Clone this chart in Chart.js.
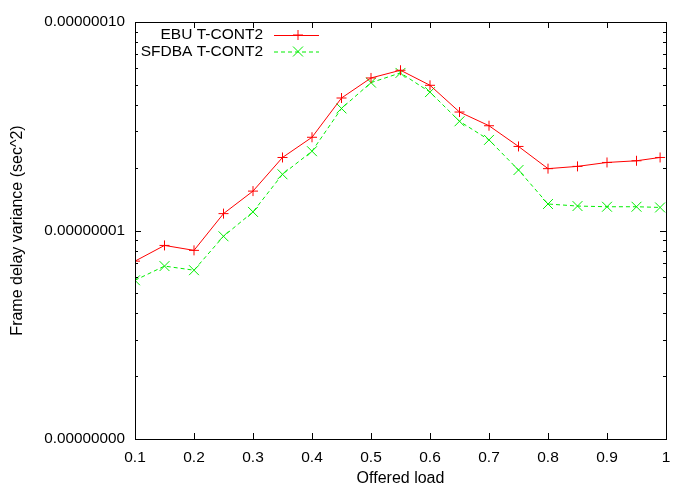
<!DOCTYPE html>
<html>
<head>
<meta charset="utf-8">
<script src="https://cdn.jsdelivr.net/npm/chart.js@4"></script>
<style>
  html, body { margin: 0; padding: 0; background: #fff; }
  #wrap { width: 674px; height: 484px; }
</style>
</head>
<body>
<div id="wrap"><canvas id="delayChart"></canvas></div>
<script>
// Offered load values (x)
const loads = [0.1, 0.15, 0.2, 0.25, 0.3, 0.35, 0.4, 0.45, 0.5, 0.55, 0.6, 0.65, 0.7, 0.75, 0.8, 0.85, 0.9, 0.95, 0.99];

// Frame delay variance (sec^2)
const ebu = [7.13e-9, 8.48e-9, 8.03e-9, 1.205e-8, 1.545e-8, 2.24e-8, 2.80e-8, 4.32e-8, 5.39e-8, 5.87e-8,
             4.97e-8, 3.70e-8, 3.18e-8, 2.53e-8, 1.98e-8, 2.03e-8, 2.12e-8, 2.16e-8, 2.24e-8];
const sfdba = [5.77e-9, 6.75e-9, 6.45e-9, 9.38e-9, 1.228e-8, 1.86e-8, 2.40e-8, 3.85e-8, 5.12e-8, 5.70e-8,
               4.61e-8, 3.34e-8, 2.72e-8, 1.95e-8, 1.34e-8, 1.31e-8, 1.30e-8, 1.30e-8, 1.29e-8];

// Axis ticks
const xTicks = [0.1, 0.2, 0.3, 0.4, 0.5, 0.6, 0.7, 0.8, 0.9, 1.0];
const xTickLabels = ['0.1', '0.2', '0.3', '0.4', '0.5', '0.6', '0.7', '0.8', '0.9', '1'];
const yTicks = [1e-9, 1e-8, 1e-7];
const yTickLabels = ['0.00000000', '0.00000001', '0.00000010'];

const FONT = '"Liberation Sans", Arial, sans-serif';

// gnuplot style frame: border, inward ticks on all four sides, minor log ticks
const framePlugin = {
  id: 'frame',
  afterDraw(chart) {
    const { ctx, chartArea: a, scales: { x, y } } = chart;
    ctx.save();
    ctx.strokeStyle = '#000';
    ctx.lineWidth = 1;
    ctx.beginPath();
    xTicks.forEach(v => {
      const px = Math.round(x.getPixelForValue(v)) + 0.5;
      ctx.moveTo(px, a.bottom); ctx.lineTo(px, a.bottom - 6);
      ctx.moveTo(px, a.top); ctx.lineTo(px, a.top + 6);
    });
    for (let e = -9; e < -7; e++) {
      for (let m = 1; m <= 10; m++) {
        const v = m * Math.pow(10, e);
        const py = Math.round(y.getPixelForValue(v)) + 0.5;
        const len = (m === 1 || m === 10) ? 6 : 3;
        ctx.moveTo(a.left, py); ctx.lineTo(a.left + len, py);
        ctx.moveTo(a.right, py); ctx.lineTo(a.right - len, py);
      }
    }
    ctx.stroke();
    ctx.strokeRect(Math.round(a.left) + 0.5, Math.round(a.top) + 0.5,
                   Math.round(a.right - a.left), Math.round(a.bottom - a.top));
    ctx.restore();
  }
};

// legend in the top left corner, text right aligned with a sample line
const keyPlugin = {
  id: 'key',
  afterDraw(chart) {
    const { ctx } = chart;
    ctx.save();
    ctx.font = '15.5px ' + FONT;
    ctx.textAlign = 'right';
    ctx.textBaseline = 'middle';
    chart.data.datasets.forEach((ds, i) => {
      const yy = 35 + i * 16.5;
      ctx.fillStyle = '#000';
      ctx.fillText(ds.label, 263, yy);
      ctx.strokeStyle = ds.borderColor;
      ctx.lineWidth = 1;
      ctx.setLineDash(ds.borderDash || []);
      ctx.beginPath();
      ctx.moveTo(274, yy + 0.5); ctx.lineTo(319, yy + 0.5);
      ctx.stroke();
      ctx.setLineDash([]);
      const r = 5, cx = 298;
      ctx.beginPath();
      if (ds.pointStyle === 'cross') {
        ctx.moveTo(cx - r, yy); ctx.lineTo(cx + r, yy);
        ctx.moveTo(cx, yy - r); ctx.lineTo(cx, yy + r);
      } else {
        ctx.moveTo(cx - r, yy - r); ctx.lineTo(cx + r, yy + r);
        ctx.moveTo(cx - r, yy + r); ctx.lineTo(cx + r, yy - r);
      }
      ctx.stroke();
    });
    ctx.restore();
  }
};

const ctx = document.getElementById('delayChart').getContext('2d');

const chart = new Chart(ctx, {
  type: 'line',
  data: {
    datasets: [{
      label: 'EBU T-CONT2',
      data: loads.map((l, i) => ({ x: l, y: ebu[i] })),
      borderColor: '#ff0000',
      backgroundColor: '#ff0000',
      borderWidth: 1,
      pointStyle: 'cross',
      pointRadius: 5,
      pointBorderWidth: 1,
      tension: 0
    }, {
      label: 'SFDBA T-CONT2',
      data: loads.map((l, i) => ({ x: l, y: sfdba[i] })),
      borderColor: '#00ee00',
      backgroundColor: '#00ee00',
      borderWidth: 1,
      borderDash: [4, 3],
      pointStyle: 'crossRot',
      pointRadius: 7,
      pointBorderWidth: 1,
      tension: 0
    }]
  },
  options: {
    responsive: true,
    maintainAspectRatio: false,
    animation: false,
    layout: { padding: { left: 0, right: 0, top: 22, bottom: 0 } },
    plugins: {
      legend: { display: false },
      tooltip: { enabled: false }
    },
    scales: {
      x: {
        type: 'linear',
        min: 0.1,
        max: 1.0,
        grid: { display: false, drawTicks: false },
        border: { display: false },
        afterBuildTicks: s => { s.ticks = xTicks.map(v => ({ value: v })); },
        afterFit: s => { s.height = 45; s.paddingLeft = 0; s.paddingRight = 0; },
        ticks: {
          autoSkip: false,
          maxRotation: 0,
          padding: 9,
          color: '#000',
          font: { family: FONT, size: 15.5 },
          callback: (v, i) => xTickLabels[i]
        },
        title: {
          display: true,
          text: 'Offered load',
          color: '#000',
          font: { family: FONT, size: 16 },
          padding: { top: 0, bottom: -4 }
        }
      },
      y: {
        type: 'logarithmic',
        min: 1e-9,
        max: 1e-7,
        grid: { display: false, drawTicks: false },
        border: { display: false },
        afterBuildTicks: s => { s.ticks = yTicks.map(v => ({ value: v })); },
        afterFit: s => { s.width = 135; s.paddingTop = 0; s.paddingBottom = 0; },
        ticks: {
          autoSkip: false,
          padding: 10,
          color: '#000',
          font: { family: FONT, size: 15.3 },
          callback: (v, i) => yTickLabels[i]
        },
        title: {
          display: true,
          text: 'Frame delay variance (sec^2)',
          color: '#000',
          font: { family: FONT, size: 16 },
          padding: { top: 8, bottom: 0 }
        }
      }
    }
  },
  plugins: [framePlugin, keyPlugin]
});
</script>
</body>
</html>
